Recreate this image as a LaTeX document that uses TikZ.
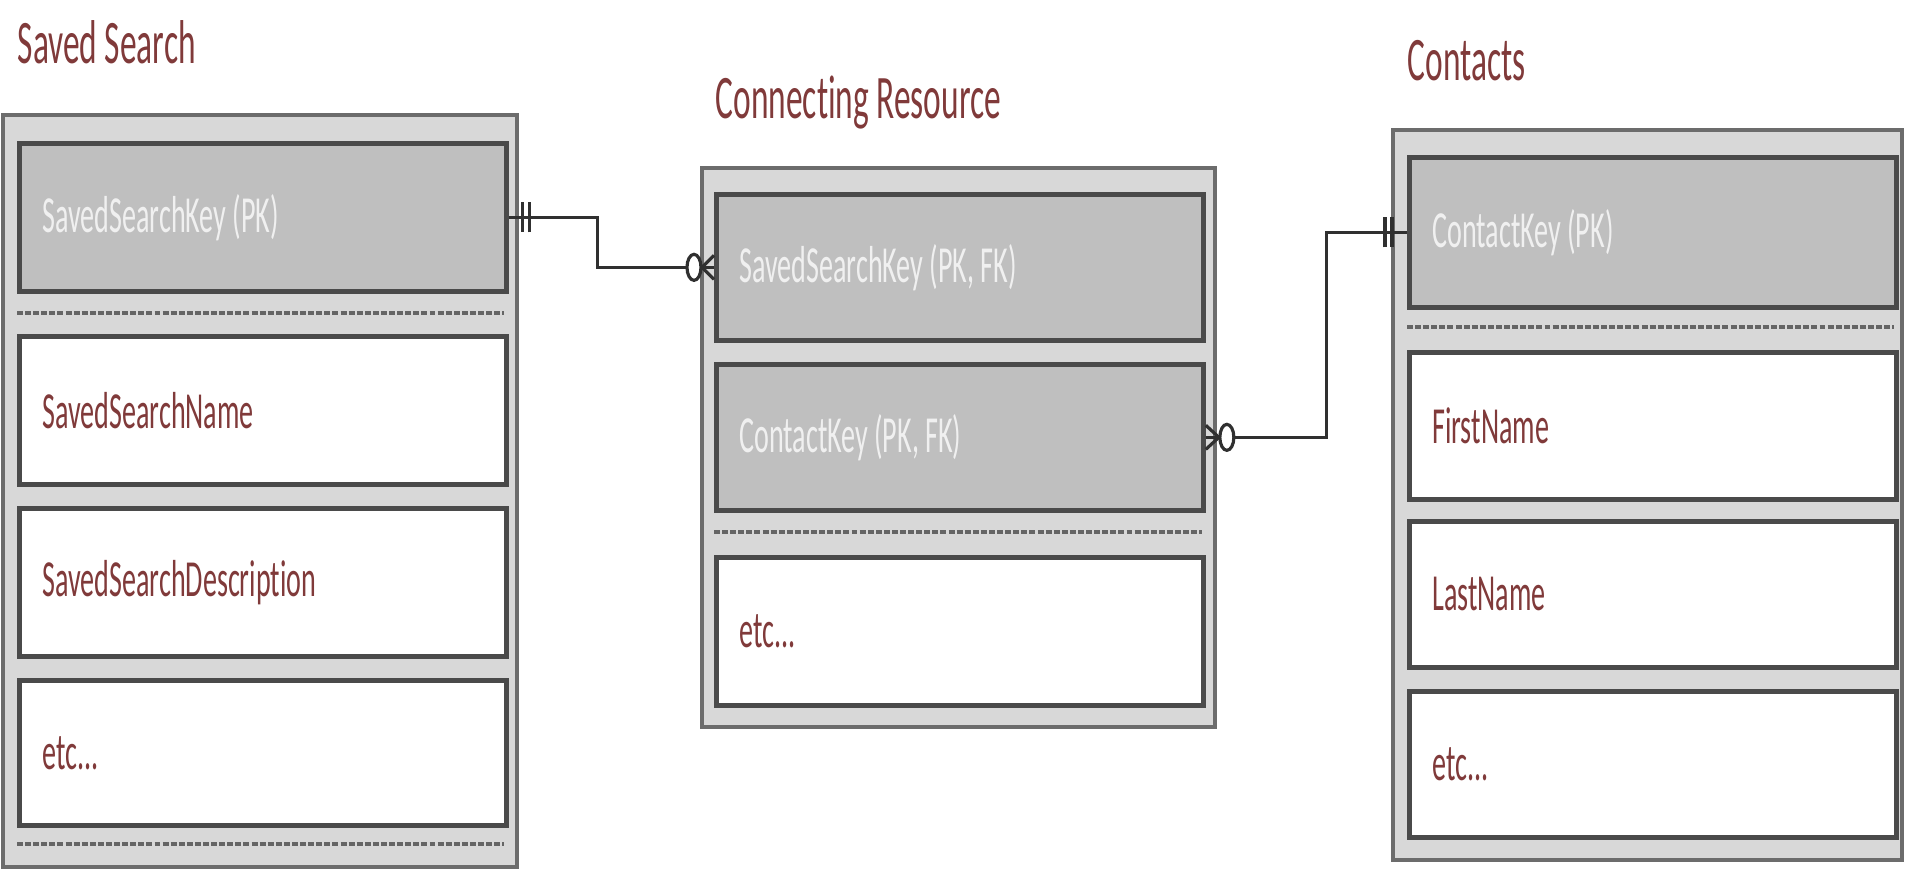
\documentclass[tikz,border=0pt]{standalone}
\usepackage{fontspec}
\setmainfont{Carlito}
\newfontfamily\erfont{Carlito}[FakeStretch=0.54, Ligatures=NoCommon]
\definecolor{titlered}{RGB}{128,58,58}
\definecolor{keyfill}{RGB}{191,191,191}
\definecolor{tablefill}{RGB}{216,216,216}
\definecolor{edgegray}{RGB}{108,108,108}
\definecolor{rowedge}{RGB}{74,74,74}
\definecolor{linkgray}{RGB}{48,48,48}
\tikzset{
  tablebox/.style={draw=edgegray, fill=tablefill, line width=1.4pt},
  rowbox/.style={draw=rowedge, line width=1.3pt, anchor=north west, minimum width=4.87cm,
    minimum height=1.48cm, text width=4.41cm, inner xsep=0.23cm, inner ysep=0pt, align=left,
    font=\erfont\fontsize{14.8}{16}\selectfont,
    execute at begin node={\spaceskip=0pt\xspaceskip=0pt}},
  keyrow/.style={rowbox, fill=keyfill, text=white!94!black},
  attrow/.style={rowbox, fill=white, text=titlered},
  tabtitle/.style={anchor=base west, inner sep=0pt, text=titlered, font=\erfont\fontsize{17.6}{20}\selectfont},
  dotsep/.style={draw=rowedge!85, line width=1.2pt, dash pattern=on 1.7pt off 0.6pt},
  relline/.style={draw=linkgray, line width=0.9pt},
}
\begin{document}
\begin{tikzpicture}[x=0.01cm, y=-0.01cm]
\useasboundingbox (0,0) rectangle (1905,869);

% Saved Search
\node[tabtitle] (sstitle) at (17,63) {Saved Search};
\draw[tablebox] (3,115) rectangle (517,867);
\node[keyrow] (sskey) at (17,141) {SavedSearchKey (PK)};
\draw[dotsep] (17,313) -- (504,313);
\node[attrow] (ssname) at (17,334) {SavedSearchName};
\node[attrow] (ssdesc) at (17,506) {SavedSearchDescription};
\node[attrow, minimum height=1.45cm] (ssetc) at (17,678) {etc...};
\draw[dotsep] (17,844) -- (504,844);

% Connecting Resource
\node[tabtitle] (crtitle) at (715,118) {Connecting Resource};
\draw[tablebox] (702,168) rectangle (1215,727);
\node[keyrow, minimum height=1.46cm] (crss) at (714,192) {SavedSearchKey (PK, FK)};
\node[keyrow, minimum height=1.46cm] (crck) at (714,362) {ContactKey (PK, FK)};
\draw[dotsep] (714,532) -- (1202,532);
\node[attrow, minimum height=1.48cm] (cretc) at (714,555) {etc...};

% Contacts
\node[tabtitle] (cttitle) at (1407,80) {Contacts};
\draw[tablebox] (1393,130) rectangle (1902,860);
\node[keyrow, minimum height=1.50cm] (ctkey) at (1407,155) {ContactKey (PK)};
\draw[dotsep] (1407,327) -- (1894,327);
\node[attrow, minimum height=1.47cm] (ctfirst) at (1407,350) {FirstName};
\node[attrow, minimum height=1.46cm] (ctlast) at (1407,519) {LastName};
\node[attrow, minimum height=1.46cm] (ctetc) at (1407,689) {etc...};

% relations
\draw[relline] (sskey.east) -- ++(89,0) |- (crss.west);
\draw[relline] (sskey.east) ++(14,-15) -- ++(0,30) ++(7,0) -- ++(0,-30);
\draw[relline] (crss.west) ++(-12,0) -- ++(12,-12) (crss.west) ++(-12,0) -- ++(12,12);
\draw[relline, fill=white] (crss.west) ++(-20,0) ellipse [x radius=0.07cm, y radius=0.13cm];

\draw[relline] (crck.east) -- ++(121,0) |- (ctkey.west);
\draw[relline] (ctkey.west) ++(-15,-15) -- ++(0,30) ++(-7,0) -- ++(0,-30);
\draw[relline] (crck.east) ++(13,0) -- ++(-13,-12) (crck.east) ++(13,0) -- ++(-13,12);
\draw[relline, fill=white] (crck.east) ++(21,0) ellipse [x radius=0.07cm, y radius=0.13cm];
\end{tikzpicture}
\end{document}
